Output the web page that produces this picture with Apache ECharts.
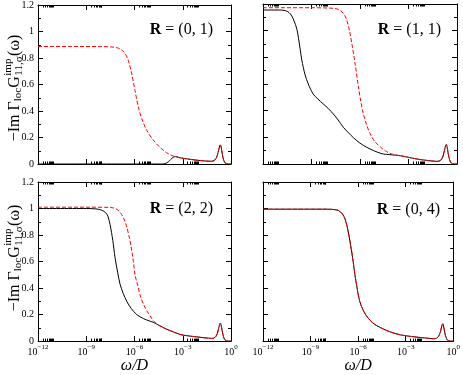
<!DOCTYPE html>
<html><head><meta charset="utf-8">
<script src="https://cdn.jsdelivr.net/npm/echarts@6/dist/echarts.min.js"></script>
<style>html,body{margin:0;padding:0;background:#fff}#c{width:463px;height:375px}</style>
</head><body><div id="c"></div><script>
// ---- data (x values are log10(omega/D)) ----
const panelLabels = ['(0, 1)', '(1, 1)', '(2, 2)', '(0, 4)'];
const xTickExponents = [-12, -9, -6, -3, 0];
const yTickValues = [0, 0.2, 0.4, 0.6, 0.8, 1, 1.2];

const p1RedX = [-12,-10,-8,-7.5,-7.1,-6.9,-6.69,-6.5,-6.38,-6.17,-5.97,-5.76,-5.55,-5.24,-4.83,-4.41,-4.0,-3.59,-3.17,-2.7,-2.3,-1.8,-1.4,-1.2,-1.05,-0.95,-0.85,-0.77,-0.7,-0.66,-0.62,-0.56,-0.5,-0.43,-0.36,-0.28,-0.15,0];
const p1RedY = [0.887,0.887,0.886,0.884,0.878,0.868,0.85,0.815,0.78,0.68,0.555,0.43,0.343,0.255,0.18,0.125,0.085,0.06,0.047,0.038,0.031,0.025,0.021,0.021,0.026,0.038,0.065,0.105,0.138,0.143,0.13,0.09,0.05,0.022,0.008,0.002,0,0];
const p1BlackX = [-12,-4.3,-4.1,-3.9,-3.75,-3.6,-3.45,-3.3,-3.17,-2.7,-2.3,-1.8,-1.4,-1.2,-1.05,-0.95,-0.85,-0.77,-0.7,-0.66,-0.62,-0.56,-0.5,-0.43,-0.36,-0.28,-0.15,0];
const p1BlackY = [0,0,0.003,0.016,0.034,0.05,0.056,0.052,0.047,0.038,0.031,0.025,0.021,0.021,0.026,0.038,0.065,0.105,0.138,0.143,0.13,0.09,0.05,0.022,0.008,0.002,0,0];

const p2RedX = [-12,-9,-8,-7.6,-7.3,-7.1,-6.95,-6.82,-6.65,-6.5,-6.3,-6.1,-5.95,-5.8,-5.6,-5.38,-5.1,-4.76,-4.45,-4.15,-3.8,-3.5,-3.2,-2.8,-2.3,-1.8,-1.4,-1.2,-1.05,-0.95,-0.85,-0.77,-0.7,-0.66,-0.62,-0.56,-0.5,-0.43,-0.36,-0.28,-0.15,0];
const p2RedY = [1.172,1.172,1.17,1.167,1.158,1.14,1.115,1.08,1.0,0.9,0.75,0.58,0.47,0.38,0.295,0.23,0.17,0.13,0.1,0.08,0.068,0.062,0.055,0.045,0.034,0.026,0.021,0.02,0.025,0.037,0.065,0.105,0.14,0.146,0.132,0.09,0.05,0.022,0.008,0.002,0,0];
const p2BlackX = [-12,-11,-10.7,-10.5,-10.3,-10.1,-9.9,-9.8,-9.7,-9.6,-9.4,-9.2,-8.9,-8.6,-8.27,-7.95,-7.65,-7.35,-7.03,-6.6,-6.2,-5.8,-5.38,-4.95,-4.56,-4.15,-3.8,-3.5,-3.2,-2.8,-2.3,-1.8,-1.4,-1.2,-1.05,-0.95,-0.85,-0.77,-0.7,-0.66,-0.62,-0.56,-0.5,-0.43,-0.36,-0.28,-0.15,0];
const p2BlackY = [1.155,1.155,1.152,1.145,1.125,1.08,1.01,0.94,0.86,0.78,0.67,0.6,0.525,0.487,0.45,0.415,0.375,0.33,0.275,0.22,0.175,0.14,0.113,0.09,0.075,0.07,0.066,0.062,0.055,0.045,0.034,0.026,0.021,0.02,0.025,0.037,0.065,0.105,0.14,0.146,0.132,0.09,0.05,0.022,0.008,0.002,0,0];

const p3BlackX = [-12,-9,-8.4,-8.1,-7.8,-7.65,-7.52,-7.35,-7.21,-7.05,-6.9,-6.7,-6.48,-6.2,-5.86,-5.45,-5.03,-4.8,-4.5,-4.0,-3.6,-3.17,-2.8,-2.3,-1.8,-1.4,-1.2,-1.05,-0.95,-0.85,-0.77,-0.7,-0.66,-0.62,-0.56,-0.5,-0.43,-0.36,-0.28,-0.15,0];
const p3BlackY = [1.0,1.0,0.997,0.99,0.97,0.94,0.88,0.76,0.63,0.52,0.43,0.36,0.3,0.245,0.2,0.17,0.15,0.14,0.12,0.09,0.07,0.05,0.042,0.034,0.027,0.022,0.02,0.024,0.034,0.058,0.095,0.128,0.135,0.123,0.085,0.048,0.021,0.008,0.002,0,0];
const p3RedX = [-12,-9,-7.5,-7.2,-7.0,-6.8,-6.6,-6.48,-6.3,-6.17,-6.07,-5.97,-5.8,-5.66,-5.45,-5.24,-5.03,-4.8,-4.5,-4.0,-3.6,-3.17,-2.8,-2.3,-1.8,-1.4,-1.2,-1.05,-0.95,-0.85,-0.77,-0.7,-0.66,-0.62,-0.56,-0.5,-0.43,-0.36,-0.28,-0.15,0];
const p3RedY = [1.01,1.01,1.008,1.0,0.985,0.955,0.905,0.86,0.77,0.68,0.6,0.5,0.42,0.35,0.28,0.23,0.19,0.15,0.12,0.09,0.07,0.05,0.042,0.034,0.027,0.022,0.02,0.024,0.034,0.058,0.095,0.128,0.135,0.123,0.085,0.048,0.021,0.008,0.002,0,0];

const p4BlackX = [-12,-8,-7.5,-7.24,-7.0,-6.82,-6.65,-6.51,-6.35,-6.2,-6.05,-5.9,-5.65,-5.38,-5.0,-4.56,-4.0,-3.33,-2.8,-2.3,-1.8,-1.4,-1.2,-1.05,-0.95,-0.85,-0.77,-0.7,-0.66,-0.62,-0.56,-0.5,-0.43,-0.36,-0.28,-0.15,0];
const p4BlackY = [0.995,0.995,0.992,0.985,0.96,0.92,0.84,0.75,0.63,0.5,0.39,0.3,0.225,0.175,0.13,0.1,0.07,0.047,0.037,0.03,0.024,0.019,0.018,0.022,0.032,0.055,0.09,0.122,0.13,0.118,0.082,0.046,0.02,0.007,0.002,0,0];
const p4RedX = p4BlackX;
const p4RedY = p4BlackY;

// ---- layout ----
const FONT = '"Liberation Serif", "DejaVu Serif", serif';
const grids = [
  {left: 38, top: 4, width: 193, height: 160},
  {left: 263, top: 4, width: 194, height: 160},
  {left: 38, top: 182, width: 193, height: 160},
  {left: 263, top: 182, width: 194, height: 160}
];
const curves = [
  {g:0, c:'black', x:p1BlackX, y:p1BlackY}, {g:0, c:'red', x:p1RedX, y:p1RedY},
  {g:1, c:'black', x:p2BlackX, y:p2BlackY}, {g:1, c:'red', x:p2RedX, y:p2RedY},
  {g:2, c:'black', x:p3BlackX, y:p3BlackY}, {g:2, c:'red', x:p3RedX, y:p3RedY},
  {g:3, c:'black', x:p4BlackX, y:p4BlackY}, {g:3, c:'red', x:p4RedX, y:p4RedY}
];
const minorX = [];
[-12, -9, -6, -3].forEach(m => { for (let k = 2; k <= 9; k++) minorX.push(m + Math.log10(k)); });

const xAxes = [], yAxes = [];
grids.forEach((gr, g) => {
  const bottomRow = g >= 2;
  const base = {type:'value', gridIndex:g, min:-12, max:0, interval:3, splitLine:{show:false}};
  xAxes.push(Object.assign({}, base, {
    position:'bottom',
    axisLine:{show:true, onZero:false, lineStyle:{color:'#000', width:1}},
    axisTick:{show:true, inside:true, length:5, lineStyle:{color:'#000'}},
    axisLabel:{show:bottomRow, margin:3, formatter: v => '{b|10}{s|' + (v === 0 ? '0' : '\u2212' + Math.abs(v)) + '}',
      rich:{b:{fontFamily:FONT, fontSize:10, color:'#000', lineHeight:13, verticalAlign:'bottom'},
            s:{fontFamily:FONT, fontSize:7, color:'#000', lineHeight:8, verticalAlign:'top'}}},
    name: bottomRow ? '\u03c9/D' : '', nameLocation:'middle', nameGap:15,
    nameTextStyle:{fontFamily:FONT, fontSize:16, fontStyle:'italic', color:'#000'}
  }));
  xAxes.push(Object.assign({}, base, {
    position:'top',
    axisLine:{show:true, onZero:false, lineStyle:{color:'#000', width:1}},
    axisTick:{show:true, inside:true, length:5, lineStyle:{color:'#000'}},
    axisLabel:{show:false}
  }));
  ['bottom', 'top'].forEach(pos => xAxes.push(Object.assign({}, base, {
    position:pos,
    axisLine:{show:false, onZero:false},
    axisTick:{show:true, inside:true, length:2.5, customValues:minorX, lineStyle:{color:'#000'}},
    axisLabel:{show:false}
  })));
  const ybase = {type:'value', gridIndex:g, min:0, max:1.2, interval:0.2, splitLine:{show:false},
    axisLine:{show:true, onZero:false, lineStyle:{color:'#000', width:1}},
    axisTick:{show:true, inside:true, length:5, lineStyle:{color:'#000'}},
    minorTick:{show:true, splitNumber:2, length:3, lineStyle:{color:'#000'}}};
  yAxes.push(Object.assign({}, ybase, {position:'left',
    axisLabel:{show: g % 2 === 0, margin:4, fontFamily:FONT, fontSize:10, color:'#000',
      customValues: yTickValues}}));
  yAxes.push(Object.assign({}, ybase, {position:'right', axisLabel:{show:false}}));
});

const series = curves.map(cv => ({
  type:'line', xAxisIndex: cv.g * 4, yAxisIndex: cv.g * 2,
  data: cv.x.map((v, i) => [v, cv.y[i]]),
  showSymbol:false, smooth:0.3, clip:true, animation:false,
  lineStyle: cv.c === 'red' ? {color:'#ff0000', width:1, type:[4, 2]} : {color:'#000', width:1}
}));

// ---- text graphics ----
const mctx = document.createElement('canvas').getContext('2d');
function tw(t, size) { mctx.font = size + 'px "Liberation Serif"'; return mctx.measureText(t).width; }
function yTitle(cy) {
  const M = 16, S = 11;
  const parts = [];
  let x = 0;
  const add = (t, size, dy) => { parts.push({type:'text', x:x, y:dy, style:{text:t, font: size + 'px ' + FONT, fill:'#000', textAlign:'left', textVerticalAlign:'middle'}}); };
  add('\u2212Im \u0393', M, 0); x += tw('\u2212Im \u0393', M);
  add('loc', S, 4); x += tw('loc', S);
  add('G', M, 0); x += tw('G', M) + 0.5;
  add('imp', S, -6); add('11,\u03c3', S, 5); x += Math.max(tw('imp', S), tw('11,\u03c3', S)) + 0.5;
  add('(\u03c9)', M, 0); x += tw('(\u03c9)', M);
  return {type:'group', x:14.5, y: cy + x / 2, rotation: Math.PI / 2, children: parts};
}
const labelPos = [[213, 30], [441, 30], [213, 209], [440, 210]];
const graphic = labelPos.map((p, i) => ({
  type:'text', x:p[0], y:p[1],
  style:{text:'{b|R} = ' + panelLabels[i], font:'16px ' + FONT, fill:'#000', textAlign:'right', textVerticalAlign:'middle',
    rich:{b:{fontWeight:'bold', fontFamily:FONT, fontSize:16, fill:'#000'}}}
}));
graphic.push(yTitle(88));
graphic.push(yTitle(258));

const chart = echarts.init(document.getElementById('c'), null, {renderer:'canvas'});
chart.setOption({
  animation:false, backgroundColor:'#fff',
  grid: grids, xAxis: xAxes, yAxis: yAxes, series: series, graphic: graphic
});
</script></body></html>
